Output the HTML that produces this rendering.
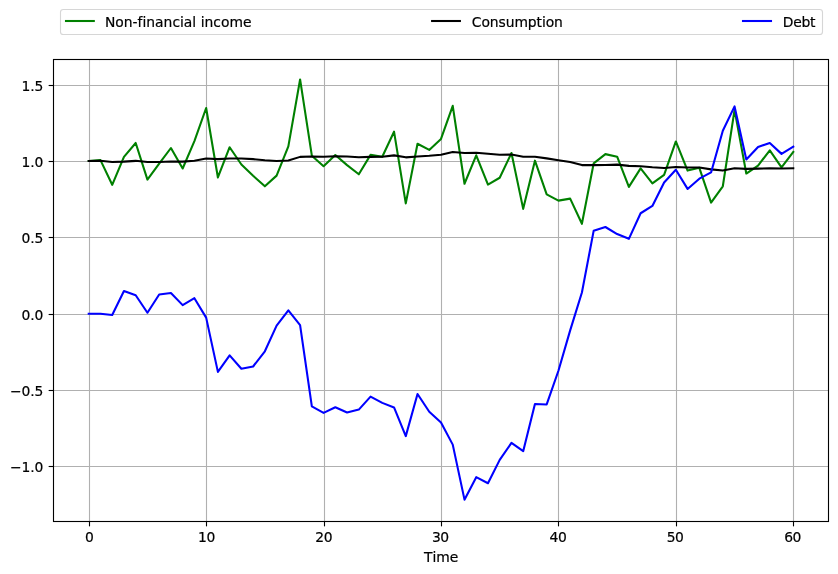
<!DOCTYPE html>
<html><head><meta charset="utf-8"><title>Chart</title>
<style>html,body{margin:0;padding:0;background:#fff;}svg{display:block;}text{font-family:"DejaVu Sans","Liberation Sans",sans-serif;font-size:13.89px;fill:#000;stroke:#000;stroke-width:0.2px;font-variant-ligatures:none;font-feature-settings:"liga" 0,"clig" 0;font-kerning:none;}</style></head><body>
<svg width="838" height="574" viewBox="0 0 838 574">
<rect width="838" height="574" fill="#fff"/>
<g stroke="#b0b0b0" stroke-width="1.11" fill="none"><line x1="89.50" y1="59.50" x2="89.50" y2="521.50"/><line x1="206.50" y1="59.50" x2="206.50" y2="521.50"/><line x1="324.50" y1="59.50" x2="324.50" y2="521.50"/><line x1="441.50" y1="59.50" x2="441.50" y2="521.50"/><line x1="558.50" y1="59.50" x2="558.50" y2="521.50"/><line x1="676.50" y1="59.50" x2="676.50" y2="521.50"/><line x1="793.50" y1="59.50" x2="793.50" y2="521.50"/><line x1="53.50" y1="85.50" x2="828.50" y2="85.50"/><line x1="53.50" y1="161.50" x2="828.50" y2="161.50"/><line x1="53.50" y1="237.50" x2="828.50" y2="237.50"/><line x1="53.50" y1="314.50" x2="828.50" y2="314.50"/><line x1="53.50" y1="390.50" x2="828.50" y2="390.50"/><line x1="53.50" y1="466.50" x2="828.50" y2="466.50"/></g>
<g stroke="#000" stroke-width="1.11" fill="none"><line x1="89.50" y1="521.50" x2="89.50" y2="526.36"/><line x1="206.50" y1="521.50" x2="206.50" y2="526.36"/><line x1="324.50" y1="521.50" x2="324.50" y2="526.36"/><line x1="441.50" y1="521.50" x2="441.50" y2="526.36"/><line x1="558.50" y1="521.50" x2="558.50" y2="526.36"/><line x1="676.50" y1="521.50" x2="676.50" y2="526.36"/><line x1="793.50" y1="521.50" x2="793.50" y2="526.36"/><line x1="48.64" y1="85.50" x2="53.50" y2="85.50"/><line x1="48.64" y1="161.50" x2="53.50" y2="161.50"/><line x1="48.64" y1="237.50" x2="53.50" y2="237.50"/><line x1="48.64" y1="314.50" x2="53.50" y2="314.50"/><line x1="48.64" y1="390.50" x2="53.50" y2="390.50"/><line x1="48.64" y1="466.50" x2="53.50" y2="466.50"/></g>
<g fill="none" stroke-width="2.08" stroke-linejoin="round" stroke-linecap="square">
<path d="M88.73 160.95 L100.47 160.10 L112.21 184.80 L123.96 156.88 L135.70 142.97 L147.44 179.62 L159.18 163.74 L170.93 148.00 L182.67 168.50 L194.41 141.04 L206.15 108.00 L217.90 177.49 L229.64 147.24 L241.38 164.50 L253.12 175.77 L264.87 186.32 L276.61 175.62 L288.35 146.37 L300.09 79.45 L311.84 155.66 L323.58 166.22 L335.32 155.01 L347.06 165.11 L358.81 174.29 L370.55 154.90 L382.29 156.73 L394.03 131.70 L405.77 203.39 L417.52 143.74 L429.26 149.92 L441.00 138.90 L452.74 105.80 L464.49 183.73 L476.23 155.31 L487.97 184.65 L499.71 177.75 L511.46 153.03 L523.20 208.87 L534.94 160.65 L546.68 194.36 L558.43 200.60 L570.17 198.62 L581.91 223.80 L593.65 163.43 L605.40 154.14 L617.14 156.73 L628.88 186.93 L640.62 168.41 L652.37 183.43 L664.11 174.86 L675.85 141.45 L687.59 170.59 L699.33 167.85 L711.08 202.62 L722.82 186.28 L734.56 109.92 L746.30 173.53 L758.05 165.56 L769.79 150.29 L781.53 167.43 L793.27 151.85" stroke="#008000"/>
<path d="M88.73 160.95 L100.47 160.80 L112.21 162.06 L123.96 161.60 L135.70 160.84 L147.44 162.06 L159.18 162.06 L170.93 161.45 L182.67 161.60 L194.41 160.69 L206.15 158.56 L217.90 159.16 L229.64 158.56 L241.38 158.56 L253.12 159.16 L264.87 160.23 L276.61 160.99 L288.35 160.54 L300.09 156.88 L311.84 156.42 L323.58 156.73 L335.32 156.27 L347.06 156.42 L358.81 157.18 L370.55 156.88 L382.29 156.73 L394.03 155.36 L405.77 157.34 L417.52 156.42 L429.26 155.81 L441.00 154.75 L452.74 152.00 L464.49 152.92 L476.23 152.77 L487.97 153.83 L499.71 154.75 L511.46 154.59 L523.20 156.73 L534.94 156.73 L546.68 158.40 L558.43 160.23 L570.17 162.06 L581.91 165.11 L593.65 165.11 L605.40 164.95 L617.14 164.65 L628.88 165.87 L640.62 166.17 L652.37 167.24 L664.11 168.00 L675.85 166.93 L687.59 167.54 L699.33 167.54 L711.08 169.37 L722.82 170.59 L734.56 168.31 L746.30 168.91 L758.05 168.61 L769.79 168.31 L781.53 168.46 L793.27 168.31" stroke="#000"/>
<path d="M88.73 313.75 L100.47 313.75 L112.21 315.01 L123.96 291.05 L135.70 295.21 L147.44 312.77 L159.18 294.44 L170.93 293.00 L182.67 305.15 L194.41 298.21 L206.15 317.60 L217.90 371.88 L229.64 355.34 L241.38 368.79 L253.12 366.50 L264.87 351.27 L276.61 325.67 L288.35 310.40 L300.09 325.06 L311.84 406.41 L323.58 412.85 L335.32 407.28 L347.06 412.51 L358.81 409.61 L370.55 396.62 L382.29 402.87 L394.03 407.44 L405.77 436.13 L417.52 394.00 L429.26 411.71 L441.00 422.53 L452.74 444.62 L464.49 499.65 L476.23 477.17 L487.97 483.20 L499.71 459.85 L511.46 442.90 L523.20 451.21 L534.94 403.98 L546.68 404.43 L558.43 370.77 L570.17 330.40 L581.91 292.54 L593.65 230.84 L605.40 226.99 L617.14 234.04 L628.88 238.81 L640.62 213.25 L652.37 205.93 L664.11 182.47 L675.85 169.79 L687.59 188.91 L699.33 178.66 L711.08 172.42 L722.82 130.68 L734.56 106.41 L746.30 159.51 L758.05 146.98 L769.79 142.97 L781.53 153.88 L793.27 146.67" stroke="#0000ff"/>
</g>
<rect x="53.50" y="59.50" width="775.00" height="462.00" fill="none" stroke="#000" stroke-width="1.11"/>
<text x="89.50" y="541.9" text-anchor="middle">0</text>
<text x="206.40" y="541.9" text-anchor="middle" letter-spacing="-0.5">10</text>
<text x="323.70" y="541.9" text-anchor="middle" letter-spacing="-0.5">20</text>
<text x="440.25" y="541.9" text-anchor="middle" letter-spacing="-0.5">30</text>
<text x="557.95" y="541.9" text-anchor="middle" letter-spacing="-0.5">40</text>
<text x="675.10" y="541.9" text-anchor="middle" letter-spacing="-0.5">50</text>
<text x="792.55" y="541.9" text-anchor="middle" letter-spacing="-0.5">60</text>
<text x="43.1" y="90.75" text-anchor="end" letter-spacing="-0.15">1.5</text>
<text x="43.1" y="166.75" text-anchor="end" letter-spacing="-0.15">1.0</text>
<text x="43.1" y="242.75" text-anchor="end" letter-spacing="-0.15">0.5</text>
<text x="43.1" y="319.75" text-anchor="end" letter-spacing="-0.15">0.0</text>
<text x="43.1" y="395.75" text-anchor="end" letter-spacing="-0.15">−0.5</text>
<text x="43.1" y="471.75" text-anchor="end" letter-spacing="-0.15">−1.0</text>
<text x="441.2" y="561.8" text-anchor="middle">Time</text>
<rect x="60.5" y="9.5" width="762" height="25" rx="2.8" ry="2.8" fill="#fff" fill-opacity="0.8" stroke="#cccccc" stroke-opacity="0.8" stroke-width="1.11"/>
<g fill="none" stroke-width="2.08" stroke-linecap="square">
<line x1="66" y1="21.0" x2="93.8" y2="21.0" stroke="#008000"/>
<line x1="432.1" y1="21.0" x2="459.9" y2="21.0" stroke="#000"/>
<line x1="743.0" y1="21.0" x2="771.0" y2="21.0" stroke="#0000ff"/>
</g>
<text x="104.9" y="26.7">Non-financial income</text>
<text x="471.8" y="26.7" letter-spacing="-0.08">Consumption</text>
<text x="782.7" y="26.7" letter-spacing="-0.2">Debt</text>
</svg></body></html>
